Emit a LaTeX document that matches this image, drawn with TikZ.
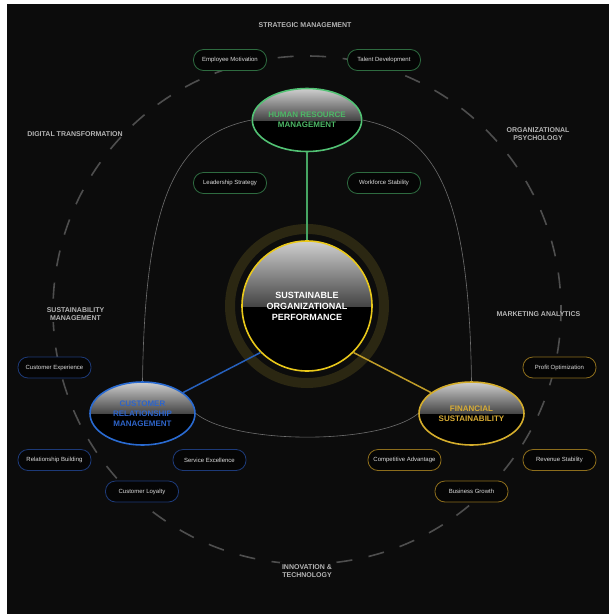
\documentclass[tikz,border=0pt]{standalone}
\usepackage{fontspec}
\setmainfont{Liberation Sans}
\usetikzlibrary{shapes.geometric}
\definecolor{bg}{HTML}{0C0C0C}
\definecolor{dashgray}{HTML}{4E4E4E}
\definecolor{arcgray}{HTML}{6E6E6E}
\definecolor{labelgray}{HTML}{B4B4B4}
\definecolor{ringolive}{HTML}{2B2712}
\definecolor{coreyellow}{HTML}{E9C81A}
\definecolor{hrgreen}{HTML}{52C274}
\definecolor{hrtext}{HTML}{4DB866}
\definecolor{crmblue}{HTML}{2A6BD1}
\definecolor{crmtext}{HTML}{2E64C8}
\definecolor{fsgold}{HTML}{D4AD2C}
\definecolor{fstext}{HTML}{D9AD35}
\definecolor{pillgreen}{HTML}{2E6B40}
\definecolor{pillblue}{HTML}{1D3A78}
\definecolor{pillgold}{HTML}{8C6D1C}
\definecolor{pillfill}{HTML}{050505}
\definecolor{pilltext}{HTML}{DDDDDD}
\definecolor{glosstop}{HTML}{CFCFCF}
\definecolor{glossmid}{HTML}{454545}
\begin{document}
\begin{tikzpicture}[x=1pt,y=-1pt,
  glossy/.style={path picture={
    \fill[black] (path picture bounding box.south west) rectangle (path picture bounding box.north east);
    \shade[top color=glosstop, bottom color=glossmid] (path picture bounding box.north west) rectangle (path picture bounding box.east);
  }},
  hub/.style={ellipse, glossy, minimum width=105pt, minimum height=63pt, inner sep=0pt,
    line width=1.6pt, align=center, font=\fontsize{8}{10}\selectfont\bfseries},
  core/.style={circle, glossy, minimum size=130pt, inner sep=0pt, draw=coreyellow,
    line width=1.6pt, align=center, text=white, font=\fontsize{9}{11}\selectfont\bfseries},
  pill/.style={rectangle, rounded corners=10pt, minimum width=73pt, minimum height=21pt,
    inner sep=0pt, fill=pillfill, line width=0.8pt, text=pilltext, font=\fontsize{6}{7}\selectfont},
  cat/.style={align=center, text=labelgray, inner sep=1.5pt, font=\fontsize{7}{8.5}\selectfont\bfseries},
  thinarc/.style={draw=arcgray, line width=0.6pt},
  link/.style={line width=1.5pt}
]
\useasboundingbox (0,0) rectangle (609,614);
\fill[white] (0,0) rectangle (609,614);
\fill[bg] (7,4) rectangle (609,614);

% outer dashed circle
\draw[dashgray, line width=1.6pt, dash pattern=on 16pt off 16.57pt, dash phase=11pt] (307,310) circle[radius=254pt];

% ring around the core
\draw[ringolive, line width=10pt] (307,306) circle[radius=77pt];

% category labels
\node[cat] (lstrat) at (305,25) {STRATEGIC MANAGEMENT};
\node[cat] (ldigit) at (75,134) {DIGITAL TRANSFORMATION};
\node[cat] (lpsych) at (538,134) {ORGANIZATIONAL\\PSYCHOLOGY};
\node[cat, fill=bg] (lsust) at (75.5,314) {SUSTAINABILITY\\MANAGEMENT};
\node[cat] (lmark) at (538.5,314) {MARKETING ANALYTICS};
\node[cat, fill=bg, inner sep=2.5pt] (linno) at (307,571) {INNOVATION \&\\TECHNOLOGY};

% main nodes
\node[core] (core) at (307,306) {SUSTAINABLE\\ORGANIZATIONAL\\PERFORMANCE};
\node[hub, draw=hrgreen, text=hrtext] (hr) at (307,120) {HUMAN RESOURCE\\MANAGEMENT};
\node[hub, draw=crmblue, text=crmtext] (crm) at (142.5,413.5) {CUSTOMER\\RELATIONSHIP\\MANAGEMENT};
\node[hub, draw=fsgold, text=fstext] (fs) at (471.5,413.5) {FINANCIAL\\SUSTAINABILITY};

% thin arcs between the hubs
\draw[thinarc] (hr.west) .. controls (175,135) and (145,200) .. (crm.north);
\draw[thinarc] (hr.east) .. controls (439,135) and (469,200) .. (fs.north);
\draw[thinarc] (crm.east) .. controls (235,445) and (380,445) .. (fs.west);

% links to the core
\draw[link, draw=hrgreen!85!black] (hr) -- (core);
\draw[link, draw=crmblue!90!black] (core.-135) -- (crm);
\draw[link, draw=fsgold!90!black] (core.-45) -- (fs);

% green pills
\node[pill, draw=pillgreen] (emot) at (230,60) {Employee Motivation};
\node[pill, draw=pillgreen] (tdev) at (384,60) {Talent Development};
\node[pill, draw=pillgreen] (lstr) at (230,183) {Leadership Strategy};
\node[pill, draw=pillgreen] (wsta) at (384,183) {Workforce Stability};

% blue pills
\node[pill, draw=pillblue] (cexp) at (54.5,367.5) {Customer Experience};
\node[pill, draw=pillblue] (rbui) at (54.5,460) {Relationship Building};
\node[pill, draw=pillblue] (sexc) at (209.5,460) {Service Excellence};
\node[pill, draw=pillblue] (cloy) at (142,491.5) {Customer Loyalty};

% gold pills
\node[pill, draw=pillgold] (popt) at (559.5,367.5) {Profit Optimization};
\node[pill, draw=pillgold] (cadv) at (404.5,460) {Competitive Advantage};
\node[pill, draw=pillgold] (rsta) at (559.5,460) {Revenue Stability};
\node[pill, draw=pillgold] (bgro) at (471.5,491.5) {Business Growth};
\end{tikzpicture}
\end{document}
